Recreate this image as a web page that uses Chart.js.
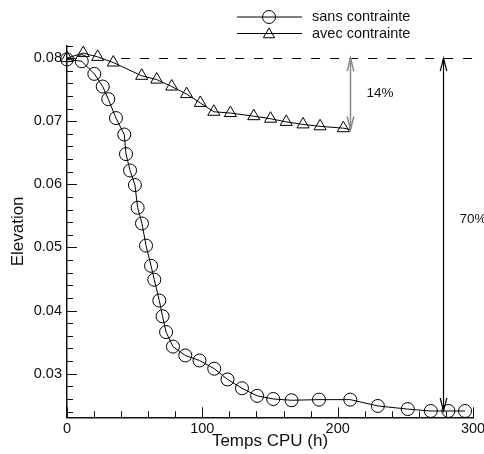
<!DOCTYPE html>
<html>
<head>
<meta charset="utf-8">
<script src="https://cdn.jsdelivr.net/npm/chart.js@4.4.1/dist/chart.umd.min.js"></script>
<style>
  html, body { margin: 0; padding: 0; background: #fff; }
  #wrap { width: 484px; height: 454px; }
</style>
</head>
<body>
<div id="wrap"><canvas id="chart"></canvas></div>
<script>
// series
const tempsSans = [0, 10.9, 20.2, 26.4, 30.5, 36.2, 42.3, 43.6, 46.6, 50.2, 52.2, 55.4, 58.4, 62.1, 64.5, 68.2, 70.6, 73.2,
  78.3, 87.4, 97.9, 108.8, 118.6, 129.3, 140.5, 152.4, 165.9, 186.2, 209.3, 229.7, 251.8, 268.8, 281.8, 294.1];
const elevSans = [0.0798, 0.0795, 0.0775, 0.0755, 0.0735, 0.0705, 0.0679, 0.0648, 0.0622, 0.0599, 0.0563, 0.0538, 0.0503,
  0.0471, 0.0449, 0.0416, 0.0391, 0.0366, 0.0343, 0.0329, 0.0321, 0.0308, 0.0291, 0.0277, 0.0265, 0.0260, 0.0258, 0.0259,
  0.0259, 0.0249, 0.0244, 0.0241, 0.0241, 0.0241];

const tempsAvec = [0, 12.0, 22.7, 34.2, 55.2, 66.3, 77.4, 88.4, 98.5, 108.5, 120.7, 138.0, 150.4, 162.0, 174.4, 187.0, 204.2, 209.5];
const elevAvec = [0.0800, 0.0808, 0.0802, 0.0793, 0.0772, 0.0766, 0.0755, 0.0743, 0.0729, 0.0715, 0.0713, 0.0708, 0.0704,
  0.0699, 0.0695, 0.0692, 0.0689, 0.0687];

const seriesLabels = ['sans contrainte', 'avec contrainte'];

// axes
const xTicks = [0, 20, 40, 60, 80, 100, 120, 140, 160, 180, 200, 220, 240, 260, 280, 300];
const xLabels = ['0', '100', '200', '300'];
const yTicks = [0.024, 0.026, 0.028, 0.03, 0.032, 0.034, 0.036, 0.038, 0.04, 0.042, 0.044, 0.046, 0.048, 0.05, 0.052,
  0.054, 0.056, 0.058, 0.06, 0.062, 0.064, 0.066, 0.068, 0.07, 0.072, 0.074, 0.076, 0.078, 0.08, 0.082];
const yLabels = ['0.03', '0.04', '0.05', '0.06', '0.07', '0.08'];

// reference level and the two gaps
const refElev = 0.08;
const refFrom = 40, refTo = 300;
const gapTemps = [209, 278];
const gapElev = [0.0687, 0.0241];
const gapTexts = ['14%', '70%'];
const gapTextElev = [0.0745, 0.0545];
const gapColors = ['#888', '#000'];

const FONT = "'Liberation Sans', Arial, Helvetica, sans-serif";
Chart.defaults.font.family = FONT;
Chart.defaults.color = '#111';

function toPoints(xs, ys) {
  return xs.map((v, i) => ({ x: v, y: ys[i] }));
}

function marker(ctx, style, x, y, r) {
  ctx.beginPath();
  if (style === 'circle') {
    ctx.arc(x, y, r, 0, Math.PI * 2);
  } else {
    ctx.moveTo(x, y - r);
    ctx.lineTo(x + r * 0.866, y + r / 2);
    ctx.lineTo(x - r * 0.866, y + r / 2);
    ctx.closePath();
  }
  ctx.stroke();
}

function arrowHead(ctx, x, y, dir) {
  ctx.beginPath();
  ctx.moveTo(x - 3.3, y + dir * 13);
  ctx.lineTo(x, y);
  ctx.lineTo(x + 3.3, y + dir * 13);
  ctx.stroke();
}

const extras = {
  id: 'extras',
  afterDatasetsDraw(chart) {
    const { ctx, chartArea: area, scales: { x, y } } = chart;
    ctx.save();

    // ticks pointing inward
    ctx.strokeStyle = '#111';
    ctx.lineWidth = 1;
    x.ticks.forEach(t => {
      const px = Math.round(x.getPixelForValue(t.value)) + 0.5;
      const len = t.label !== '' ? 10 : 6;
      ctx.beginPath();
      ctx.moveTo(px, area.bottom);
      ctx.lineTo(px, area.bottom - len);
      ctx.stroke();
    });
    y.ticks.forEach(t => {
      const py = Math.round(y.getPixelForValue(t.value)) + 0.5;
      const len = t.label !== '' ? 10 : 6;
      ctx.beginPath();
      ctx.moveTo(area.left, py);
      ctx.lineTo(area.left + len, py);
      ctx.stroke();
    });

    // dashed reference
    ctx.setLineDash([9, 10]);
    ctx.strokeStyle = '#000';
    const ry = Math.round(y.getPixelForValue(refElev)) + 0.5;
    ctx.beginPath();
    ctx.moveTo(x.getPixelForValue(refFrom), ry);
    ctx.lineTo(x.getPixelForValue(refTo), ry);
    ctx.stroke();
    ctx.setLineDash([]);

    // gap arrows
    ctx.font = '13.5px ' + FONT;
    ctx.textBaseline = 'middle';
    ctx.textAlign = 'left';
    gapTemps.forEach((t, i) => {
      const px = Math.round(x.getPixelForValue(t)) + 0.5;
      const y1 = y.getPixelForValue(refElev);
      const y2 = y.getPixelForValue(gapElev[i]);
      ctx.strokeStyle = gapColors[i];
      ctx.lineWidth = i === 0 ? 1.5 : 1.2;
      ctx.beginPath();
      ctx.moveTo(px, y1);
      ctx.lineTo(px, y2);
      ctx.stroke();
      arrowHead(ctx, px, y1, 1);
      arrowHead(ctx, px, y2, -1);
      ctx.fillStyle = '#111';
      ctx.fillText(gapTexts[i], px + 16, y.getPixelForValue(gapTextElev[i]));
    });

    // legend: line with marker, then label
    ctx.font = '14.5px ' + FONT;
    chart.data.datasets.forEach((ds, i) => {
      const ly = 17 + i * 16.5;
      ctx.strokeStyle = '#000';
      ctx.lineWidth = 1;
      ctx.beginPath();
      ctx.moveTo(237, ly);
      ctx.lineTo(302, ly);
      ctx.stroke();
      marker(ctx, ds.pointStyle, 269, i === 0 ? ly : ly + 1, 6.5);
      ctx.fillStyle = '#111';
      ctx.fillText(ds.label, 312, ly);
    });

    ctx.restore();
  }
};

const ctx = document.getElementById('chart').getContext('2d');
new Chart(ctx, {
  type: 'scatter',
  data: {
    datasets: [
      {
        label: seriesLabels[0],
        data: toPoints(tempsSans, elevSans),
        showLine: true,
        borderColor: '#000',
        borderWidth: 1,
        pointStyle: 'circle',
        pointRadius: 6.5,
        pointBorderWidth: 1,
        pointBorderColor: '#000',
        pointBackgroundColor: 'rgba(0,0,0,0)',
        clip: false
      },
      {
        label: seriesLabels[1],
        data: toPoints(tempsAvec, elevAvec),
        showLine: true,
        borderColor: '#000',
        borderWidth: 1,
        pointStyle: 'triangle',
        pointRadius: tempsAvec.map((v, i) => i === tempsAvec.length - 1 ? 0 : 7),
        pointBorderWidth: 1,
        pointBorderColor: '#000',
        pointBackgroundColor: 'rgba(0,0,0,0)',
        clip: false
      }
    ]
  },
  options: {
    responsive: true,
    maintainAspectRatio: false,
    animation: false,
    layout: { padding: { top: 45.5, right: 11, left: 0, bottom: 0 } },
    plugins: {
      legend: { display: false },
      tooltip: { enabled: false }
    },
    scales: {
      x: {
        type: 'linear',
        min: 0,
        max: 300,
        afterBuildTicks: s => { s.ticks = xTicks.map(v => ({ value: v })); },
        ticks: {
          autoSkip: false,
          maxRotation: 0,
          padding: 3,
          font: { size: 14.5 },
          callback: v => xLabels.includes(String(v)) ? String(v) : ''
        },
        grid: { display: false, drawTicks: false },
        border: { display: true, color: '#111', width: 1.5 },
        title: {
          display: true,
          text: 'Temps CPU (h)',
          font: { size: 17 },
          padding: { top: 0, bottom: 2.8 }
        },
        afterFit: s => { s.height = 36.7; s.paddingLeft = 0; s.paddingRight = 0; }
      },
      y: {
        type: 'linear',
        min: 0.0231,
        max: 0.082,
        afterBuildTicks: s => { s.ticks = yTicks.map(v => ({ value: v })); },
        ticks: {
          autoSkip: false,
          padding: 5,
          font: { size: 14.5 },
          callback: v => {
            const s = v.toFixed(2);
            return yLabels.includes(s) && Math.abs(v - parseFloat(s)) < 1e-9 ? s : '';
          }
        },
        grid: { display: false, drawTicks: false },
        border: { display: true, color: '#111', width: 1.5 },
        title: {
          display: true,
          text: 'Elevation',
          font: { size: 17 },
          padding: { top: 8.1, bottom: 0 }
        },
        afterFit: s => { s.width = 67; s.paddingTop = 0; s.paddingBottom = 0; }
      }
    }
  },
  plugins: [extras]
});
</script>
</body>
</html>
